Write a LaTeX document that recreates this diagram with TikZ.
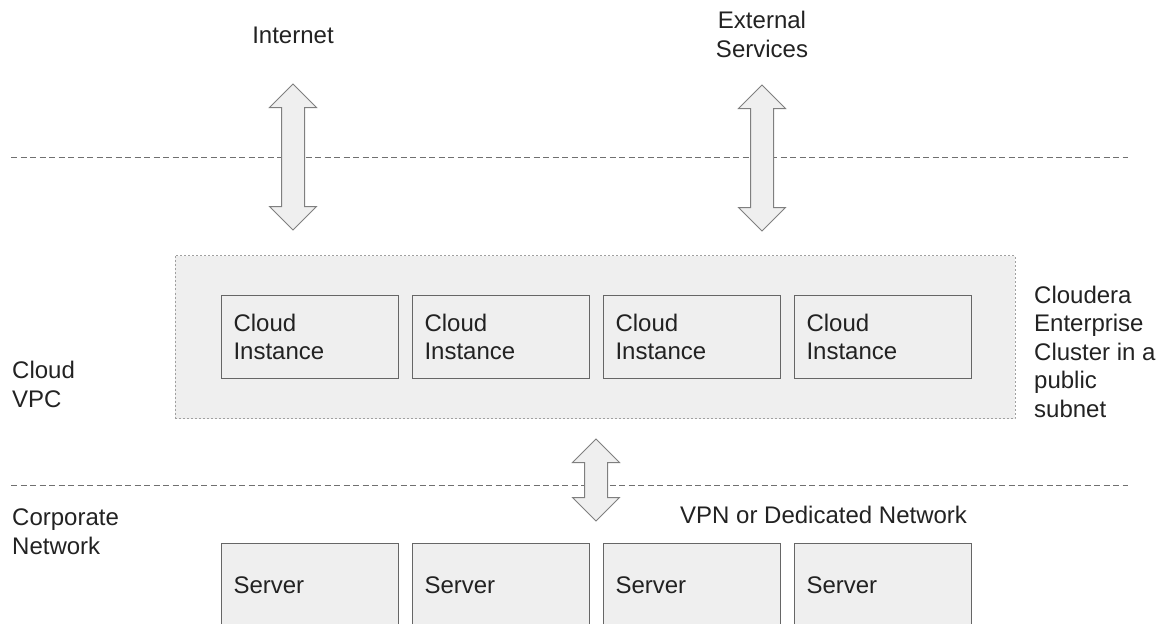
\documentclass[tikz,border=0pt]{standalone}
\usepackage{fontspec}
\setmainfont{Liberation Sans}
\usetikzlibrary{shapes.arrows,positioning}

\definecolor{boxfill}{HTML}{EFEFEF}
\definecolor{boxline}{HTML}{666666}
\definecolor{arrowline}{HTML}{7F7F7F}
\definecolor{dashline}{HTML}{707070}
\definecolor{vpcline}{HTML}{A0A0A0}
\definecolor{inktext}{HTML}{222222}

\tikzset{
  lbl/.style={font=\fontsize{24}{28.5}\selectfont, text=inktext, inner sep=0pt, align=left},
  hostbox/.style={draw=boxline, fill=boxfill, line width=1pt, font=\fontsize{24}{28}\selectfont,
    text=inktext, minimum width=177pt, minimum height=83pt, text width=153pt, inner xsep=12pt, align=left},
  vpcbox/.style={draw=vpcline, fill=boxfill, line width=1pt, dash pattern=on 2pt off 2pt,
    minimum width=840pt, minimum height=163pt},
  zoneline/.style={draw=dashline, line width=1pt, dash pattern=on 6pt off 3.5pt},
  bigarrow/.style={double arrow, draw=arrowline, fill=boxfill, line width=1pt, inner sep=11pt,
    double arrow head extend=12pt, shape border rotate=90}
}

\begin{document}
\begin{tikzpicture}[x=1pt, y=-1pt]
    \useasboundingbox (0,0) rectangle (1163,624);
    \clip (0,0) rectangle (1163,624);

    % zone boundaries
    \draw[zoneline] (11,157) -- (1128,157);
    \draw[zoneline] (11,485) -- (1128,485);

    % Cloud VPC with the cluster
    \node[vpcbox] (vpc) at (595,337) {};
    \foreach \i in {1,...,4}
        \node[hostbox, anchor=west] (inst\i) at ({221+191*(\i-1)},336.5) {Cloud\\Instance};

    % corporate servers
    \foreach \i in {1,...,4}
        \node[hostbox, anchor=north west] (srv\i) at ({221+191*(\i-1)},543) {Server};

    % traffic arrows
    \node[bigarrow, minimum height=146pt, minimum width=46pt] (inetarrow) at (293,157) {};
    \node[bigarrow, minimum height=146pt, minimum width=46pt] (extarrow) at (762,158) {};
    \node[bigarrow, minimum height=82pt, minimum width=46pt] (vpnarrow) at (596,480) {};

    % labels (base = last line)
    \node[lbl, anchor=base] (internet) at (293,43) {Internet};
    \node[lbl, anchor=base, align=center] (external) at (762,57) {External\\Services};
    \node[lbl, anchor=base west] (cluster) at (1034,417) {Cloudera\\Enterprise\\Cluster in a\\public\\subnet};
    \node[lbl, anchor=base west] (cloudvpc) at (12,407) {Cloud\\VPC};
    \node[lbl, anchor=base west] (corpnet) at (12,554) {Corporate\\Network};
    \node[lbl, anchor=base west] (vpn) at (680,523) {VPN or Dedicated Network};
\end{tikzpicture}
\end{document}
